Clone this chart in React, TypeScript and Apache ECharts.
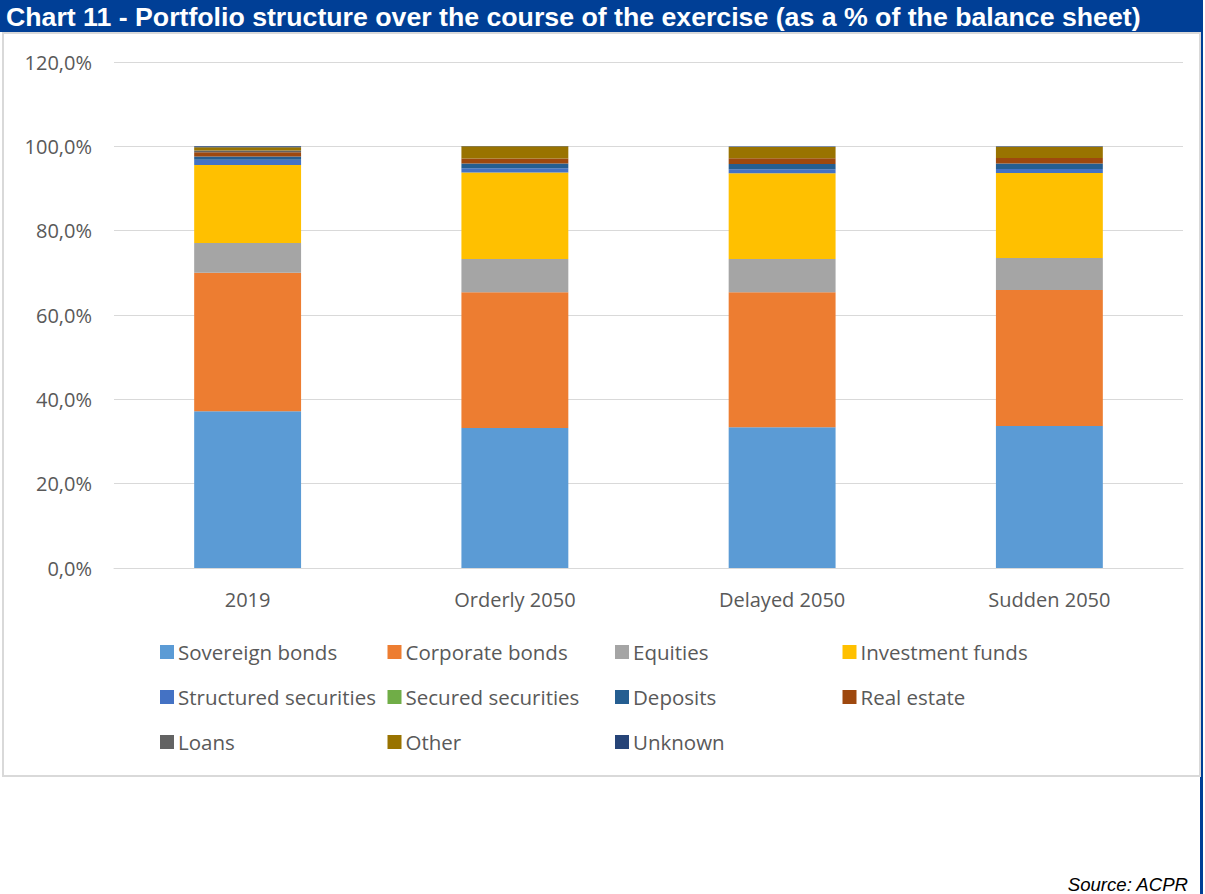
import React, { useEffect, useRef } from "react";
import * as echarts from "echarts";

const categories = ["2019", "Orderly 2050", "Delayed 2050", "Sudden 2050"];
const seriesNames = [
  "Sovereign bonds",
  "Corporate bonds",
  "Equities",
  "Investment funds",
  "Structured securities",
  "Secured securities",
  "Deposits",
  "Real estate",
  "Loans",
  "Other",
  "Unknown",
];
const seriesColors = [
  "#5B9BD5",
  "#ED7D31",
  "#A5A5A5",
  "#FFC000",
  "#4472C4",
  "#70AD47",
  "#255E91",
  "#9E480E",
  "#636363",
  "#997300",
  "#264478",
];
const sovereign = [37.2, 33.2, 33.4, 33.7];
const corporate = [32.8, 32.2, 32.0, 32.2];
const equities = [7.1, 7.9, 7.9, 7.6];
const investment = [18.5, 20.5, 20.3, 20.2];
const structured = [1.2, 1.0, 0.95, 0.95];
const secured = [0, 0, 0, 0];
const deposits = [0.8, 1.1, 1.25, 1.25];
const realEstate = [1.0, 1.2, 1.35, 1.35];
const loans = [0.4, 0, 0, 0];
const other = [0.8, 2.9, 2.7, 2.65];
const unknown = [0.2, 0.1, 0.1, 0.1];
const seriesValues = [
  sovereign,
  corporate,
  equities,
  investment,
  structured,
  secured,
  deposits,
  realEstate,
  loans,
  other,
  unknown,
];
const yTicks = { min: 0, max: 120, interval: 20 };

export default function App() {
  const ref = useRef<HTMLDivElement>(null);
  useEffect(() => {
    document.body.style.margin = "0";
    const chart = echarts.init(ref.current!, null, { renderer: "svg" });
    const font = "'Open Sans', sans-serif";
    chart.setOption({
      animation: false,
      backgroundColor: "#ffffff",
      textStyle: { fontFamily: font },
      grid: { left: 114, right: 22, top: 62, bottom: 326 },
      xAxis: {
        type: "category",
        data: categories,
        axisTick: { show: false },
        axisLine: { lineStyle: { color: "#D9D9D9" } },
        axisLabel: { color: "#595959", fontSize: 20, margin: 21, fontFamily: font },
      },
      yAxis: {
        type: "value",
        min: yTicks.min,
        max: yTicks.max,
        interval: yTicks.interval,
        axisLine: { show: false },
        axisTick: { show: false },
        splitLine: { lineStyle: { color: "#D9D9D9" } },
        axisLabel: {
          color: "#595959",
          fontSize: 20,
          margin: 22,
          fontFamily: font,
          formatter: (v: number) => v.toFixed(1).replace(".", ",") + "%",
        },
      },
      legend: {
        left: 155,
        top: 629,
        width: 930,
        itemWidth: 14,
        itemHeight: 14,
        itemGap: 9,
        icon: "rect",
        data: seriesNames,
        textStyle: {
          color: "#595959",
          fontSize: 20.5,
          fontFamily: font,
          width: 200.5,
          lineHeight: 36,
          padding: [0, 0, 0, -1],
        },
      },
      series: seriesNames.map((name, i) => ({
        name,
        type: "bar",
        stack: "total",
        barWidth: "40%",
        data: seriesValues[i],
        itemStyle: { color: seriesColors[i] },
      })),
      graphic: [
        {
          type: "rect",
          shape: { x: 3, y: 33, width: 1197, height: 743 },
          style: { fill: "none", stroke: "#D9D9D9", lineWidth: 2 },
          silent: true,
        },
        {
          type: "rect",
          shape: { x: 0, y: 0, width: 1203, height: 32 },
          style: { fill: "#003F96" },
          silent: true,
        },
        {
          type: "rect",
          shape: { x: 1201, y: 0, width: 2, height: 894 },
          style: { fill: "#003F96" },
          silent: true,
        },
        {
          type: "rect",
          shape: { x: 1200, y: 777, width: 3, height: 117 },
          style: { fill: "#003F96" },
          silent: true,
        },
        {
          type: "text",
          x: 6,
          y: 17,
          style: {
            text: "Chart 11 - Portfolio structure over the course of the exercise (as a % of the balance sheet)",
            fill: "#ffffff",
            font: "bold 26.7px 'Liberation Sans', Arial, sans-serif",
            textVerticalAlign: "middle",
          },
          silent: true,
        },
        {
          type: "text",
          x: 1188,
          y: 884,
          style: {
            text: "Source: ACPR",
            fill: "#000000",
            font: "italic 18.6px 'Liberation Sans', Arial, sans-serif",
            textAlign: "right",
            textVerticalAlign: "middle",
          },
          silent: true,
        },
      ],
    });
    return () => chart.dispose();
  }, []);
  return <div ref={ref} style={{ width: 1205, height: 894 }} />;
}
